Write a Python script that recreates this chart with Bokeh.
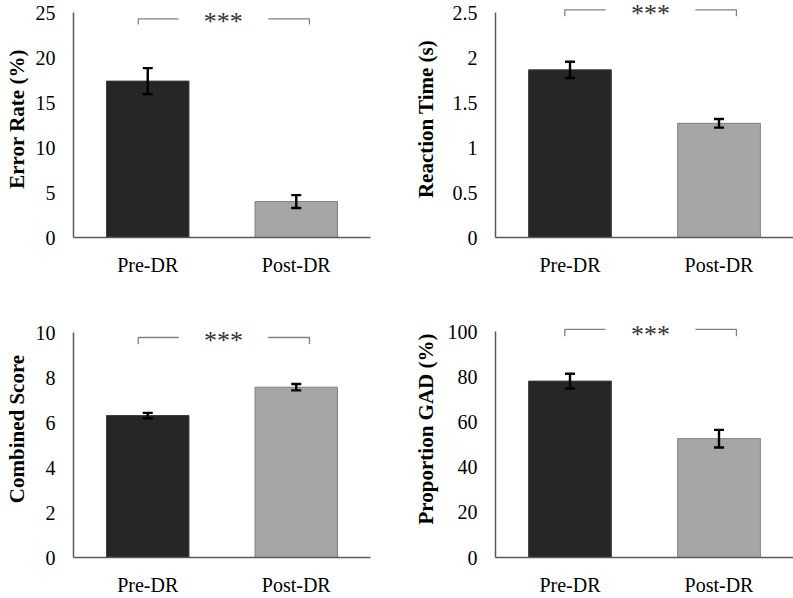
from bokeh.plotting import figure
from bokeh.models import ColumnDataSource, FactorRange, Range1d, Whisker, TeeHead, FixedTicker
from bokeh.layouts import column, row
from bokeh.embed import file_html
from bokeh.resources import INLINE
from bokeh.core.properties import value

# ---------------- data ----------------
categories = ["Pre-DR", "Post-DR"]

error_rate = [17.4, 4.0]
error_rate_err = [1.45, 0.72]

reaction_time = [1.865, 1.27]
reaction_time_err = [0.09, 0.048]

combined_score = [6.31, 7.57]
combined_score_err = [0.12, 0.14]

proportion_gad = [78.2, 52.7]
proportion_gad_err = [3.3, 3.9]

ticks_error = [0, 5, 10, 15, 20, 25]
labels_error = ["0", "5", "10", "15", "20", "25"]
ticks_rt = [0, 0.5, 1, 1.5, 2, 2.5]
labels_rt = ["0", "0.5", "1", "1.5", "2", "2.5"]
ticks_cs = [0, 2, 4, 6, 8, 10]
labels_cs = ["0", "2", "4", "6", "8", "10"]
ticks_gad = [0, 20, 40, 60, 80, 100]
labels_gad = ["0", "20", "40", "60", "80", "100"]

sig_label = "***"

FONT = "Liberation Serif"
BAR_FILL = ["#262626", "#a6a6a6"]
BAR_LINE = ["#3a3a3a", "#7f7f7f"]


def panel(vals, errs, ylabel, ticks, tick_labels, width, height, left, right, top, bottom,
          y_end, bracket, label_standoff, x_standoff):
    src = ColumnDataSource(dict(
        cat=categories, val=vals,
        lo=[v - e for v, e in zip(vals, errs)],
        hi=[v + e for v, e in zip(vals, errs)],
        fill=BAR_FILL, line=BAR_LINE,
    ))
    p = figure(x_range=FactorRange(*categories), y_range=Range1d(0, y_end),
               width=width, height=height, output_backend="svg", toolbar_location=None,
               min_border_left=left, min_border_right=right,
               min_border_top=top, min_border_bottom=bottom)
    p.outline_line_color = None
    p.grid.visible = False
    p.background_fill_color = "white"
    p.border_fill_color = "white"

    p.vbar(x="cat", top="val", width=0.555, source=src,
           fill_color="fill", line_color="line", line_width=1)

    w = Whisker(base="cat", lower="lo", upper="hi", source=src,
                line_color="black", line_width=2.4, level="annotation",
                upper_head=TeeHead(size=10, line_color="black", line_width=2.4),
                lower_head=TeeHead(size=10, line_color="black", line_width=2.4))
    p.add_layout(w)

    # significance bracket
    x0, x1, x2, x3, y_line, y_tick, y_text = bracket
    p.line([x0, x0, x1], [y_tick, y_line, y_line], line_color="#808080", line_width=1.3)
    p.line([x2, x3, x3], [y_line, y_line, y_tick], line_color="#808080", line_width=1.3)
    p.text(x=[(x1 + x2) / 2], y=[y_text], text=[sig_label], text_align="center",
           text_baseline="alphabetic", text_font=value(FONT), text_font_size="26px",
           text_color="#333333")

    # axes
    for ax in (p.xaxis[0], p.yaxis[0]):
        ax.axis_line_color = "#595959"
        ax.axis_line_width = 1.5
        ax.major_tick_line_color = None
        ax.minor_tick_line_color = None
        ax.major_tick_out = 0
        ax.major_tick_in = 0
        ax.major_label_text_font = FONT
        ax.major_label_text_font_size = "20px"
        ax.major_label_text_color = "black"

    p.xaxis.major_label_standoff = x_standoff
    p.yaxis.ticker = FixedTicker(ticks=ticks)
    p.yaxis.major_label_overrides = {t: l for t, l in zip(ticks, tick_labels)}
    p.yaxis.bounds = (0, ticks[-1])
    p.yaxis.major_label_standoff = 18
    p.yaxis.axis_label = ylabel
    p.yaxis.axis_label_text_font = FONT
    p.yaxis.axis_label_text_font_style = "bold"
    p.yaxis.axis_label_text_font_size = "21px"
    p.yaxis.axis_label_text_color = "black"
    p.yaxis.axis_label_standoff = label_standoff
    return p


p1 = panel(error_rate, error_rate_err, "Error Rate (%)", ticks_error, labels_error,
           400, 300, 73, 30, 0, 63, 25 * 237 / 224.7,
           (0.436, 0.707, 1.311, 1.589, 24.33, 23.7, 24.08), 4, 16)
p2 = panel(reaction_time, reaction_time_err, "Reaction Time (s)", ticks_rt, labels_rt,
           393, 300, 95, 0, 0, 62, 2.5 * 238 / 225.7,
           (0.465, 0.738, 1.342, 1.617, 2.533, 2.462, 2.49), 12, 16)
p3 = panel(combined_score, combined_score_err, "Combined Score", ticks_cs, labels_cs,
           400, 298, 73, 30, 0, 39, 10 * 259 / 226.7,
           (0.436, 0.709, 1.311, 1.589, 9.78, 9.48, 9.64), 4, 16)
p4 = panel(proportion_gad, proportion_gad_err, "Proportion GAD (%)", ticks_gad, labels_gad,
           393, 298, 95, 0, 0, 39, 100 * 259 / 227.3,
           (0.465, 0.738, 1.342, 1.617, 101.1, 98.1, 99.06), 7, 16)

layout = column(row(p1, p2), row(p3, p4))
open("out.html", "w").write(file_html(layout, INLINE))
